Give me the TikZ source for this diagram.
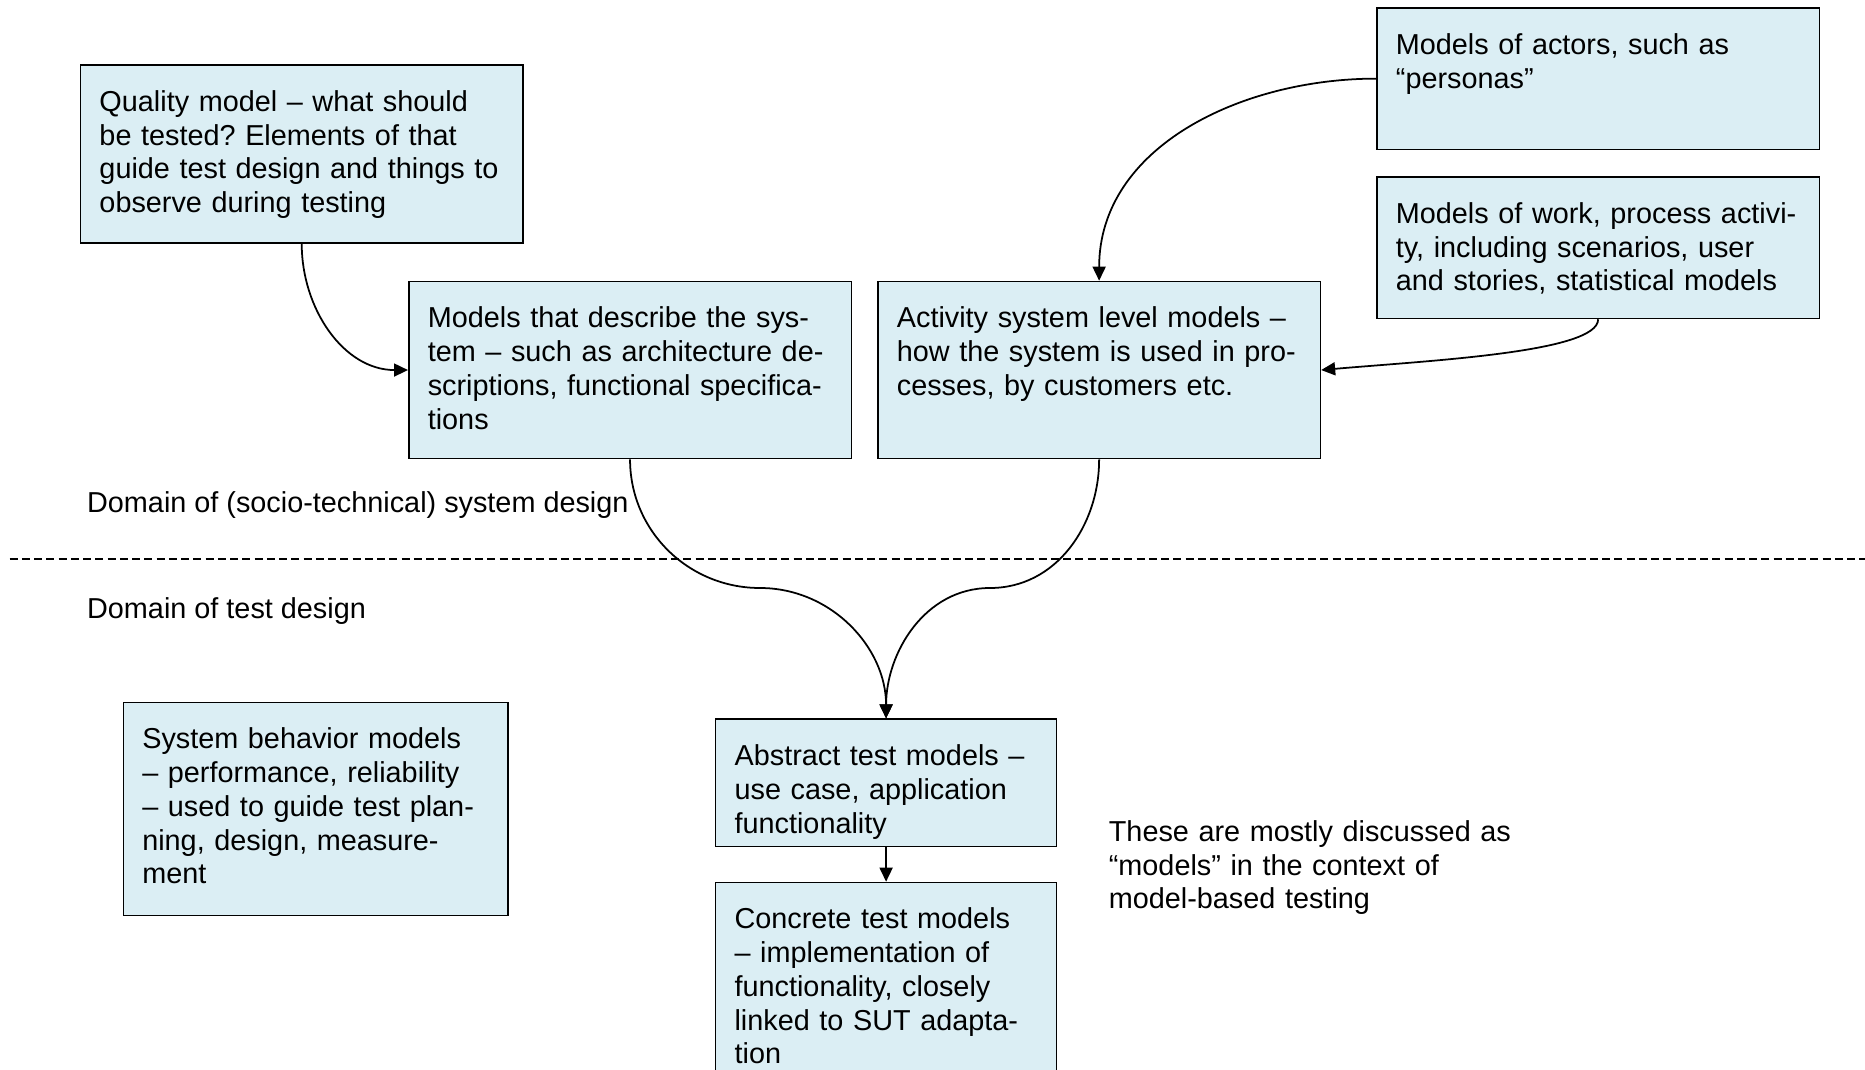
\documentclass[tikz,border=0pt]{standalone}
\usepackage{fontspec}
\setmainfont{Liberation Sans}
\usepackage{xcolor}
\definecolor{boxblue}{RGB}{219, 238, 244}
\usepackage{tikz}
\usetikzlibrary{arrows.meta, positioning}

\begin{document}
\begin{tikzpicture}[node distance=0.5cm,
        modelbox/.style={rectangle, draw=black, fill=boxblue, line width=0.9pt, anchor=north west, align=left, text width=8.09cm, inner xsep=0.38cm, inner ysep=0.4cm, text height=0.53cm, font=\fontsize{16.4pt}{19.2pt}\selectfont\frenchspacing},
        note/.style={anchor=north west, align=left, inner sep=0pt, text width=12cm, text height=0.53cm, font=\fontsize{16.4pt}{19.2pt}\selectfont\frenchspacing},
        areatext/.style={anchor=base west, inner sep=0pt, font=\fontsize{16.4pt}{19.2pt}\selectfont},
        line/.style={draw=black, line width=1pt, -{Triangle[length=0.28cm, width=0.26cm]}},
        divider/.style={draw=black, line width=1pt, dash pattern=on 0.16cm off 0.085cm}]

        \useasboundingbox (0,0) rectangle (37.3,-21.4);

        \node [modelbox, text depth=2.236cm] (quality) at (1.594,-1.284) {Quality model – what should\\
        be tested? Elements of that\\
        guide test design and things to\\
        observe during testing};

        \node [modelbox, text depth=2.212cm] (sysdesc) at (8.16,-5.614) {Models that describe the sys-\\
        tem – such as architecture de-\\
        scriptions, functional specifica-\\
        tions};

        \node [modelbox, text depth=2.212cm, right=0.5cm of sysdesc] (activity) {Activity system level models –\\
        how the system is used in pro-\\
        cesses, by customers etc.};

        \node [modelbox, text depth=1.5cm] (actors) at (27.522,-0.142) {Models of actors, such as\\
        “personas”};

        \node [modelbox, text depth=1.5cm, below=0.52cm of actors] (work) {Models of work, process activi-\\
        ty, including scenarios, user\\
        and stories, statistical models};

        \node [areatext] (sysdomain) at (1.736,-10.254) {Domain of (socio-technical) system design};
        \node [areatext] (testdomain) at (1.736,-12.374) {Domain of test design};

        \node [modelbox, text width=6.93cm, text depth=2.926cm] (behavior) at (2.45,-14.034) {System behavior models\\
        – performance, reliability\\
        – used to guide test plan-\\
        ning, design, measure-\\
        ment};

        \node [modelbox, text width=6.06cm, text depth=1.214cm] (abstract) at (14.296,-14.368) {Abstract test models –\\
        use case, application\\
        functionality};

        \node [modelbox, text width=6.06cm, text depth=3.6cm, below=0.69cm of abstract] (concrete) {Concrete test models\\
        – implementation of\\
        functionality, closely\\
        linked to SUT adapta-\\
        tion};

        \node [note] (mbtnote) at (22.17,-16.29) {These are mostly discussed as\\
        “models” in the context of\\
        model-based testing};

        \path [divider] (0.19,-11.18) -- (37.3,-11.18);

        \coordinate (leftmerge) at (15.2,-11.76);
        \coordinate (rightmerge) at (19.8,-11.76);

        \path [line] (quality.south) to[out=-90, in=180] (sysdesc.west);
        \path [line] (actors.west) to[out=180, in=90] (activity.north);
        \path [line] (work.south) to[out=-90, in=5, out looseness=0.3] (activity.east);
        \path [line] (sysdesc.south) to[out=-90, in=180] (leftmerge) to[out=0, in=90] (abstract.north);
        \path [line] (activity.south) to[out=-90, in=0] (rightmerge) to[out=180, in=90] (abstract.north);
        \path [line] (abstract.south) -- (concrete.north);
    \end{tikzpicture}
\end{document}
